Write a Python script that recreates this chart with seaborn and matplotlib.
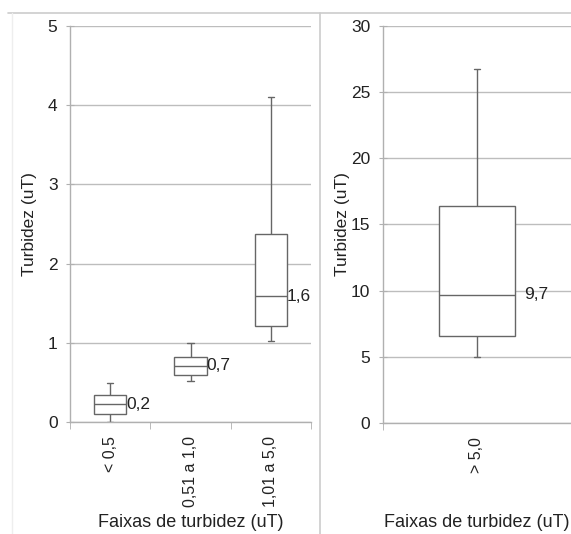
import numpy as np
import pandas as pd
import matplotlib
matplotlib.use("Agg")
import matplotlib.pyplot as plt
from matplotlib.lines import Line2D
import seaborn as sns

# five-number summaries: min, q1, median, q3, max
faixas_baixas = ["< 0,5", "0,51 a 1,0", "1,01 a 5,0"]
resumo_baixas = [
    [0.00, 0.11, 0.23, 0.35, 0.50],
    [0.52, 0.59, 0.71, 0.82, 1.00],
    [1.02, 1.22, 1.59, 2.38, 4.10],
]
rotulos_baixas = ["0,2", "0,7", "1,6"]

faixas_altas = ["> 5,0"]
resumo_altas = [
    [5.0, 6.6, 9.7, 16.4, 26.7],
]
rotulos_altas = ["9,7"]

sns.set_style("white")
plt.rcParams["font.family"] = ["Liberation Sans", "DejaVu Sans"]

EDGE = "#666666"
GRID = "#bdbdbd"
SPINE = "#b0b0b0"
TXT = "#222222"
FS = 12.5


def long_form(faixas, resumo):
    rows = []
    for f, vals in zip(faixas, resumo):
        for v in vals:
            rows.append((f, v))
    return pd.DataFrame(rows, columns=["faixa", "turbidez"])


def draw_panel(ax, faixas, resumo, rotulos, ymax, ystep, capw, label_dx, ylab_x, xlab_y):
    df = long_form(faixas, resumo)
    sns.boxplot(data=df, x="faixa", y="turbidez", order=faixas, ax=ax,
                width=0.4, whis=(0, 100), color="white", linecolor=EDGE,
                linewidth=1.0, showfliers=False, capwidths=capw)
    for i, vals in enumerate(resumo):
        med = np.median(vals)
        ax.text(i + 0.2 + label_dx, med, rotulos[i], ha="left", va="center",
                fontsize=FS, color=TXT)
    ax.set_ylim(0, ymax)
    ax.set_xlim(-0.5, len(faixas) - 0.5)
    ax.set_yticks(np.arange(0, ymax + ystep / 2, ystep))
    ax.yaxis.grid(True, color=GRID, linewidth=1.0)
    ax.set_axisbelow(True)
    for s in ["top", "right"]:
        ax.spines[s].set_visible(False)
    for s in ["left", "bottom"]:
        ax.spines[s].set_color(SPINE)
        ax.spines[s].set_linewidth(1.0)
    # category boundaries carry the x tick marks
    ax.set_xticks(np.arange(len(faixas)))
    ax.set_xticklabels(faixas, rotation=90, fontsize=11.5, color=TXT)
    ax.set_xticks(np.arange(len(faixas) + 1) - 0.5, minor=True)
    ax.tick_params(axis="x", which="major", length=0, pad=10)
    ax.tick_params(axis="x", which="minor", direction="out", length=5,
                   color=SPINE, bottom=True)
    ax.tick_params(axis="y", direction="inout", length=6, color=SPINE,
                   labelsize=FS, labelcolor=TXT, left=True, pad=6)
    ax.set_ylabel("Turbidez (uT)", fontsize=FS, color=TXT)
    ax.set_xlabel("Faixas de turbidez (uT)", fontsize=FS + 0.5, color=TXT)
    ax.yaxis.set_label_coords(ylab_x, 0.5)
    ax.xaxis.set_label_coords(0.5, xlab_y)


fig = plt.figure(figsize=(5.71, 5.34), dpi=100)
ax1 = fig.add_axes([0.1226, 0.2092, 0.4221, 0.7427])
ax2 = fig.add_axes([0.6702, 0.2073, 0.3298, 0.7446])

draw_panel(ax1, faixas_baixas, resumo_baixas, rotulos_baixas, 5, 1, 0.08, 0.0, -0.135, -0.232)
draw_panel(ax2, faixas_altas, resumo_altas, rotulos_altas, 30, 5, 0.03, 0.05, -0.175, -0.229)

# outer frame of the two chart boxes
H = 534.0
W = 571.0
fig.add_artist(Line2D([8 / W, 1], [1 - 13 / H, 1 - 13 / H], color="#cccccc",
                      linewidth=1.2, transform=fig.transFigure))
fig.add_artist(Line2D([320 / W, 320 / W], [0, 1 - 13 / H], color="#cccccc",
                      linewidth=1.2, transform=fig.transFigure))
fig.add_artist(Line2D([12 / W, 12 / W], [0, 1 - 13 / H], color="#eeeeee",
                      linewidth=1.0, transform=fig.transFigure))

fig.savefig("out.png", dpi=100)
